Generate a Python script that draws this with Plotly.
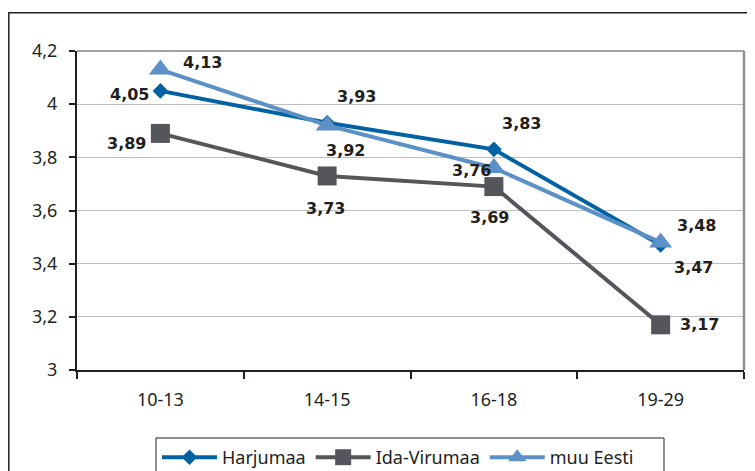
import plotly.graph_objects as go

categories = ["10-13", "14-15", "16-18", "19-29"]
harjumaa = [4.05, 3.93, 3.83, 3.47]
ida_virumaa = [3.89, 3.73, 3.69, 3.17]
muu_eesti = [4.13, 3.92, 3.76, 3.48]
y_ticks = [3, 3.2, 3.4, 3.6, 3.8, 4, 4.2]

# label offsets in px (dx, dy), per series and point
harj_off = [(-31, -4), (29, 26), (28, 26), (33, -22)]
ida_off = [(-34, -10), (-2, -33), (-4, -31), (39, 0)]
muu_off = [(42, 7), (18, -25), (-22, -3), (36, 17)]

# page body has an 8px margin, so the figure is shrunk by 8px
OFF = 8
W, H = 755 - OFF, 471 - OFF
L, T = 77 - OFF, 51 - OFF
R, B = W - (744 - OFF), H - (370 - OFF)
pw, ph = W - L - R, H - T - B


def px(x):
    return (x - OFF - L) / pw


def py(y):
    return (H - B - (y - OFF)) / ph


fig = go.Figure()
series = [
    ("Harjumaa", harjumaa, "#0062a3", "diamond", 12, harj_off),
    ("Ida-Virumaa", ida_virumaa, "#55565b", "square", 19, ida_off),
    ("muu Eesti", muu_eesti, "#5b91c7", "triangle-up", 20, muu_off),
]
for name, vals, col, sym, size, off in series:
    fig.add_trace(go.Scatter(
        x=categories, y=vals, name=name, mode="lines+markers",
        line=dict(color=col, width=4),
        marker=dict(symbol=sym, size=size, color=col),
    ))

annotations = []
for name, vals, col, sym, size, off in series:
    for c, v, (dx, dy) in zip(categories, vals, off):
        annotations.append(dict(
            x=c, y=v, text=f"{v:.2f}".replace(".", ","), showarrow=False,
            xshift=dx, yshift=dy,
            font=dict(family="DejaVu Sans", size=16, color="#231f20", weight="bold"),
        ))

shapes = [
    # outer chart frame (cropped on right and bottom)
    dict(type="rect", xref="paper", yref="paper",
         x0=px(8.8), x1=px(790), y0=py(500), y1=py(12.8),
         line=dict(color="#231f20", width=1.5), layer="below"),
    # plot area top and right border
    dict(type="line", xref="paper", yref="paper", x0=0, x1=1, y0=1, y1=1,
         line=dict(color="#a3a3a3", width=2)),
    dict(type="line", xref="paper", yref="paper", x0=1, x1=1, y0=0, y1=1,
         line=dict(color="#8e8e8e", width=2.5)),
    # legend box (cropped at bottom)
    dict(type="rect", xref="paper", yref="paper",
         x0=px(156), x1=px(664), y0=py(500), y1=py(438),
         line=dict(color="#231f20", width=1)),
]

fig.update_layout(
    width=W, height=H,
    margin=dict(l=L, r=R, t=T, b=B, autoexpand=False),
    paper_bgcolor="white", plot_bgcolor="white",
    separators=", ",
    font=dict(family="Noto Sans", size=18, color="#231f20"),
    showlegend=True,
    legend=dict(
        orientation="h", xref="container", yref="container",
        x=(157 - OFF) / W, xanchor="left", y=1 - (439 - OFF) / H, yanchor="top",
        bgcolor="rgba(0,0,0,0)", borderwidth=0,
        font=dict(family="Noto Sans", size=18, color="#231f20"),
        itemwidth=55, itemclick=False,
    ),
    annotations=annotations,
    shapes=shapes,
)
fig.update_xaxes(
    type="category", range=[-0.5, 3.5], tickson="boundaries",
    ticks="outside", ticklen=7, tickwidth=1.5, tickcolor="#231f20",
    showline=True, linecolor="#231f20", linewidth=2,
    showgrid=False, ticklabelstandoff=12,
    tickfont=dict(family="Noto Sans", size=18, color="#231f20"),
)
fig.update_yaxes(
    range=[3, 4.2], tickvals=y_ticks,
    ticks="outside", ticklen=6, tickwidth=1.5, tickcolor="#231f20",
    showline=True, linecolor="#231f20", linewidth=2,
    showgrid=True, gridcolor="#bdbdbd", gridwidth=1.2, zeroline=False,
    ticklabelstandoff=8,
    tickfont=dict(family="Noto Sans", size=18, color="#231f20"),
)

fig.write_html("out.html")
